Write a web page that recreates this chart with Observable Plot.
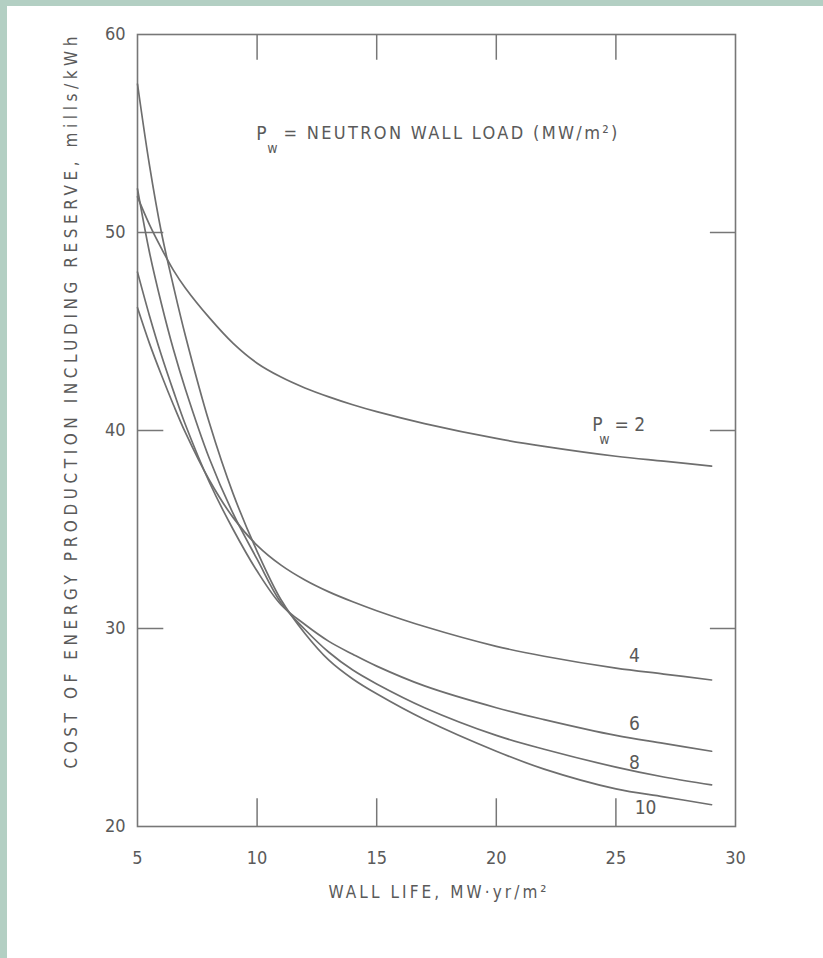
<!DOCTYPE html>
<html><head><meta charset="utf-8">
<script src="https://cdn.jsdelivr.net/npm/d3@7"></script>
<script src="https://cdn.jsdelivr.net/npm/@observablehq/plot@0.6"></script>
<style>
html,body{margin:0;padding:0;background:#fff;}
#wrap{width:816px;height:952px;border-top:6px solid #b3cfc3;border-left:7px solid #b3cfc3;background:#fff;overflow:hidden;}
svg{display:block;}
</style></head><body><div id="wrap"></div>
<script>
// Wall life (MW·yr/m²) sample positions
const wallLife = [5, 5.5, 6, 6.5, 7, 8, 9, 10, 11, 12, 13, 14, 15, 17, 20, 22, 25, 27, 29];
// Cost of energy (mills/kWh) for each neutron wall load Pw
const pw2  = [51.8, 50.4, 49.2, 48.1, 47.2, 45.7, 44.4, 43.4, 42.7, 42.15, 41.7, 41.3, 40.95, 40.35, 39.6, 39.2, 38.7, 38.45, 38.2];
const pw4  = [46.2, 44.4, 42.8, 41.3, 39.9, 37.5, 35.6, 34.2, 33.2, 32.45, 31.85, 31.35, 30.9, 30.1, 29.1, 28.6, 28.0, 27.7, 27.4];
const pw6  = [48.0, 45.8, 43.8, 42.0, 40.3, 37.4, 35.0, 32.9, 31.2, 30.2, 29.35, 28.7, 28.1, 27.1, 26.0, 25.4, 24.6, 24.2, 23.8];
const pw8  = [52.2, 49.0, 46.4, 44.1, 42.1, 38.6, 35.8, 33.5, 31.3, 29.95, 28.8, 27.9, 27.2, 26.0, 24.6, 23.9, 23.0, 22.5, 22.1];
const pw10 = [57.5, 53.4, 50.0, 47.3, 44.8, 40.4, 36.8, 33.9, 31.45, 29.75, 28.4, 27.45, 26.7, 25.4, 23.8, 22.9, 21.9, 21.5, 21.1];
const seriesNames = ["2", "4", "6", "8", "10"];
const seriesValues = [pw2, pw4, pw6, pw8, pw10];

const xTicks = [5, 10, 15, 20, 25, 30];
const yTicks = [20, 30, 40, 50, 60];
const innerXTicks = [10, 15, 20, 25];
const innerYTicks = [30, 40, 50];

// Curve labels
const curveLabels = ["4", "6", "8", "10"];
const curveLabelX = [25.78, 25.78, 25.78, 26.24];
const curveLabelY = [28.64, 25.2, 23.23, 20.96];

const xLabel = "WALL LIFE, MW·yr/m²";
const yLabel = "COST OF ENERGY PRODUCTION INCLUDING RESERVE, mills/kWh";
const headerLabel = "= NEUTRON WALL LOAD (MW/m²)";
const pw2Label = "= 2";

const data = seriesNames.flatMap((name, i) =>
  wallLife.map((x, j) => ({pw: name, life: x, cost: seriesValues[i][j]})));

const ink = "#5a5a5a";
const lineInk = "#6e6e6e";
const font = "DejaVu Sans Condensed";

const plot = Plot.plot({
  width: 816, height: 952,
  marginLeft: 130, marginRight: 88, marginTop: 28, marginBottom: 132,
  x: {domain: [5, 30]},
  y: {domain: [20, 60]},
  style: {fontFamily: font, color: ink, background: "white"},
  marks: [
    Plot.frame({stroke: "#777", strokeWidth: 1.6}),
    Plot.axisX({ticks: xTicks, tickSize: 0, tickPadding: 25, fontSize: 18, label: null, fill: ink}),
    Plot.axisY({ticks: yTicks, tickSize: 0, tickPadding: 12, fontSize: 18, label: null, fill: ink}),
    Plot.ruleX(innerXTicks, {x: d => d, y1: 20, y2: 21.4, stroke: "#777", strokeWidth: 1.5}),
    Plot.ruleX(innerXTicks, {x: d => d, y1: 60, y2: 58.7, stroke: "#777", strokeWidth: 1.5}),
    Plot.ruleY(innerYTicks, {y: d => d, x1: 5, x2: 6.1, stroke: "#777", strokeWidth: 1.5}),
    Plot.ruleY(innerYTicks, {y: d => d, x1: 30, x2: 28.95, stroke: "#777", strokeWidth: 1.5}),
    Plot.line(data, {x: "life", y: "cost", z: "pw", curve: "catmull-rom", stroke: lineInk, strokeWidth: 1.7}),
    // header annotation
    Plot.text(["P"], {x: 10.18, y: 55.0, fontSize: 19, fill: ink}),
    Plot.text(["w"], {x: 10.18, y: 55.0, dx: 11, dy: 15, fontSize: 14, fill: ink}),
    Plot.text([headerLabel], {x: 11.10, y: 55.0, textAnchor: "start", fontSize: 18, fill: ink}),
    // Pw = 2 label
    Plot.text(["P"], {x: 24.23, y: 40.3, fontSize: 19, fill: ink}),
    Plot.text(["w"], {x: 24.23, y: 40.3, dx: 7, dy: 15, fontSize: 14, fill: ink}),
    Plot.text([pw2Label], {x: 24.94, y: 40.3, textAnchor: "start", fontSize: 19, fill: ink}),
    Plot.text(curveLabels, {x: (d, i) => curveLabelX[i], y: (d, i) => curveLabelY[i], text: d => d, fontSize: 19, fill: ink}),
    // axis titles
    Plot.text([yLabel], {frameAnchor: "bottom-left", rotate: -90, textAnchor: "start", dx: -61, dy: -58, fontSize: 17, fill: ink}),
    Plot.text([xLabel], {frameAnchor: "bottom-left", textAnchor: "start", dx: 191, dy: 71, fontSize: 17, fill: ink})
  ]
});

document.getElementById("wrap").appendChild(plot);

const svg = plot.tagName.toLowerCase() === "svg" ? plot : plot.querySelector("svg");
d3.select(svg).selectAll("text").each(function() {
  const t = this.textContent;
  if (t === headerLabel) d3.select(this).attr("textLength", 334).attr("lengthAdjust", "spacing");
  else if (t === yLabel) d3.select(this).attr("textLength", 732).attr("lengthAdjust", "spacing");
  else if (t === xLabel) d3.select(this).attr("textLength", 218).attr("lengthAdjust", "spacing");
});
</script></body></html>
